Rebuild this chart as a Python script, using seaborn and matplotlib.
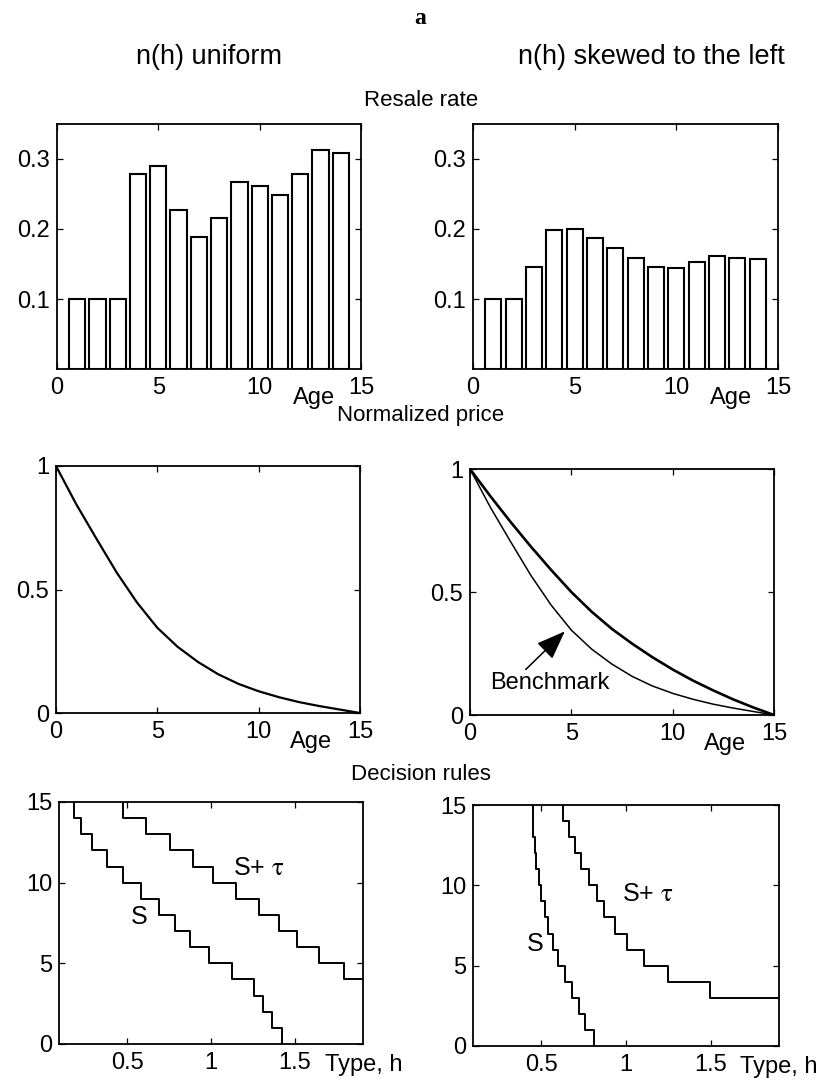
import numpy as np
import pandas as pd
import matplotlib
matplotlib.use("Agg")
import matplotlib.pyplot as plt
import matplotlib.transforms as mtransforms
import seaborn as sns

# ---------------- data ----------------
ages = [1, 2, 3, 4, 5, 6, 7, 8, 9, 10, 11, 12, 13, 14]
resale_uniform = [0.100, 0.100, 0.100, 0.278, 0.290, 0.227, 0.189, 0.215,
                  0.267, 0.261, 0.248, 0.278, 0.313, 0.309]
resale_skewed = [0.100, 0.100, 0.145, 0.199, 0.200, 0.187, 0.173, 0.158,
                 0.146, 0.144, 0.153, 0.161, 0.158, 0.157]

price_age = [0, 1, 2, 3, 4, 5, 6, 7, 8, 9, 10, 11, 12, 13, 14, 15]
price_uniform = [1.0, 0.845, 0.705, 0.568, 0.447, 0.345, 0.268, 0.207,
                 0.157, 0.118, 0.088, 0.064, 0.044, 0.028, 0.014, 0.0]
price_skewed = [1.0, 0.89, 0.785, 0.685, 0.59, 0.50, 0.42, 0.35,
                0.29, 0.235, 0.185, 0.14, 0.10, 0.063, 0.03, 0.0]
price_benchmark = price_uniform

max_age = 15
type_max = 1.9
# type thresholds at which the decision age drops by one year (from 15 down)
S_left = [0.186, 0.226, 0.292, 0.381, 0.478, 0.583, 0.688, 0.786, 0.877,
          0.986, 1.123, 1.258, 1.308, 1.363, 1.421]
Stau_left = [0.478, 0.613, 0.758, 0.891, 1.014, 1.149, 1.288, 1.403, 1.512,
             1.641, 1.794]
S_right = [0.450, 0.452, 0.460, 0.470, 0.485, 0.500, 0.520, 0.540, 0.570,
           0.600, 0.640, 0.680, 0.720, 0.760, 0.810]
Stau_right = [0.626, 0.662, 0.696, 0.736, 0.782, 0.826, 0.872, 0.932, 1.006,
              1.106, 1.246, 1.496]

col_titles = ["n(h) uniform", "n(h) skewed to the left"]
row_titles = ["Resale rate", "Normalized price", "Decision rules"]

# ---------------- style ----------------
sns.set_style("ticks")
plt.rcParams["font.family"] = ["Liberation Sans", "DejaVu Sans"]
plt.rcParams["mathtext.fontset"] = "stix"
for k in ["text.color", "axes.labelcolor", "xtick.color", "ytick.color",
          "axes.edgecolor"]:
    plt.rcParams[k] = "black"

W, H = 833, 1088
fig = plt.figure(figsize=(W / 100, H / 100), dpi=100)


def add_ax(l, r, t, b):
    return fig.add_axes([l / W, 1 - b / H, (r - l) / W, (b - t) / H])


TICK_FS = 17


def style(ax):
    ax.tick_params(direction="in", top=True, right=True, length=4,
                   width=0.9, labelsize=TICK_FS, colors="black")
    ax.tick_params(axis="x", pad=6)
    ax.tick_params(axis="y", pad=5)
    for s in ax.spines.values():
        s.set_visible(True)
        s.set_linewidth(1.3)
        s.set_color("black")
    ax.set_xlabel("")
    ax.set_ylabel("")


def below(ax, px):
    """transform: x in data, y = px pixels below the axes bottom"""
    off = mtransforms.ScaledTranslation(0, -px / 100, fig.dpi_scale_trans)
    return ax.get_xaxis_transform() + off


def steps(thr, final=None):
    xs, ys = [], []
    for i, h in enumerate(thr):
        xs += [h, h]
        ys += [max_age - i, max_age - i - 1]
    if final is not None:
        xs.append(final)
        ys.append(ys[-1])
    return pd.DataFrame({"h": xs, "age": ys})


axes_pos = {
    (0, 0): (57, 361, 124, 369), (0, 1): (473, 778, 124, 369),
    (1, 0): (56, 360, 466, 713), (1, 1): (470, 774, 469, 715),
    (2, 0): (59, 363, 802, 1044), (2, 1): (473, 779, 805, 1046),
}

# ---------------- row 1: resale rate ----------------
for j, rates in enumerate([resale_uniform, resale_skewed]):
    ax = add_ax(*axes_pos[(0, j)])
    df = pd.DataFrame({"age": ages, "rate": rates})
    sns.barplot(data=df, x="age", y="rate", native_scale=True, color="white",
                edgecolor="black", linewidth=1.5, saturation=1, width=0.8,
                ax=ax)
    ax.set_xlim(0, 15)
    ax.set_ylim(0, 0.35)
    ax.set_xticks([0, 5, 10, 15])
    ax.set_xticklabels(["0", "5", "10", "15"])
    ax.set_yticks([0.1, 0.2, 0.3])
    ax.set_yticklabels(["0.1", "0.2", "0.3"])
    style(ax)
    ax.text(12.7, 0, "Age", transform=below(ax, 29), ha="center",
            va="center", fontsize=TICK_FS)

# ---------------- row 2: normalized price ----------------
ax = add_ax(*axes_pos[(1, 0)])
sns.lineplot(x=price_age, y=price_uniform, color="black", linewidth=1.6,
             estimator=None, sort=False, ax=ax)
ax2 = add_ax(*axes_pos[(1, 1)])
sns.lineplot(x=price_age, y=price_skewed, color="black", linewidth=1.9,
             estimator=None, sort=False, ax=ax2)
sns.lineplot(x=price_age, y=price_benchmark, color="black", linewidth=1.1,
             estimator=None, sort=False, ax=ax2)
ax2.annotate("", xy=(4.68, 0.34), xytext=(2.75, 0.185),
             arrowprops=dict(arrowstyle="-|>,head_length=1.0,head_width=0.38",
                             color="black", lw=1.1, mutation_scale=18,
                             shrinkA=0, shrinkB=0))
ax2.text(3.95, 0.13, "Benchmark", ha="center", va="center", fontsize=TICK_FS)
for a in (ax, ax2):
    a.set_xlim(0, 15)
    a.set_ylim(0, 1)
    a.set_xticks([0, 5, 10, 15])
    a.set_xticklabels(["0", "5", "10", "15"])
    a.set_yticks([0, 0.5, 1])
    a.set_yticklabels(["0", "0.5", "1"])
    style(a)
    a.text(12.6, 0, "Age", transform=below(a, 29), ha="center",
           va="center", fontsize=TICK_FS)

# ---------------- row 3: decision rules ----------------
panels = [(S_left, Stau_left, (0.573, 7.85), (1.13, 10.9)),
          (S_right, Stau_right, (0.46, 6.34), (0.976, 9.48))]
for j, (s_thr, st_thr, s_pos, st_pos) in enumerate(panels):
    ax = add_ax(*axes_pos[(2, j)])
    d1 = steps(s_thr)
    d2 = steps(st_thr, final=type_max)
    sns.lineplot(data=d1, x="h", y="age", color="black", linewidth=1.4,
                 estimator=None, sort=False, ax=ax)
    sns.lineplot(data=d2, x="h", y="age", color="black", linewidth=1.4,
                 estimator=None, sort=False, ax=ax)
    ax.set_xlim(0.095, 1.905)
    ax.set_ylim(0, 15)
    ax.set_xticks([0.5, 1, 1.5])
    ax.set_xticklabels(["0.5", "1", "1.5"])
    ax.set_yticks([0, 5, 10, 15])
    ax.set_yticklabels(["0", "5", "10", "15"])
    style(ax)
    ax.text(s_pos[0], s_pos[1], "S", ha="center", va="center",
            fontsize=TICK_FS + 1)
    ax.text(st_pos[0], st_pos[1], "S+ $\\mathrm{\\tau}$", ha="left",
            va="center", fontsize=TICK_FS + 1)
    ax.text(0.874, 0, "Type, h",
            transform=ax.transAxes
            + mtransforms.ScaledTranslation(0, -21 / 100, fig.dpi_scale_trans),
            ha="left", va="center", fontsize=TICK_FS)

# ---------------- titles ----------------
fig.text(420 / W, 1 - 18 / H, "a", ha="center", va="center",
         fontsize=17, fontweight="bold", family="Liberation Serif")
fig.text(209 / W, 1 - 57 / H, col_titles[0], ha="center", va="center",
         fontsize=19.5)
fig.text(651 / W, 1 - 57 / H, col_titles[1], ha="center", va="center",
         fontsize=19.5)
for y, t in zip([101, 416, 775], row_titles):
    fig.text(421 / W, 1 - y / H, t, ha="center", va="center", fontsize=16)

fig.savefig("out.png", dpi=100, facecolor="white")
